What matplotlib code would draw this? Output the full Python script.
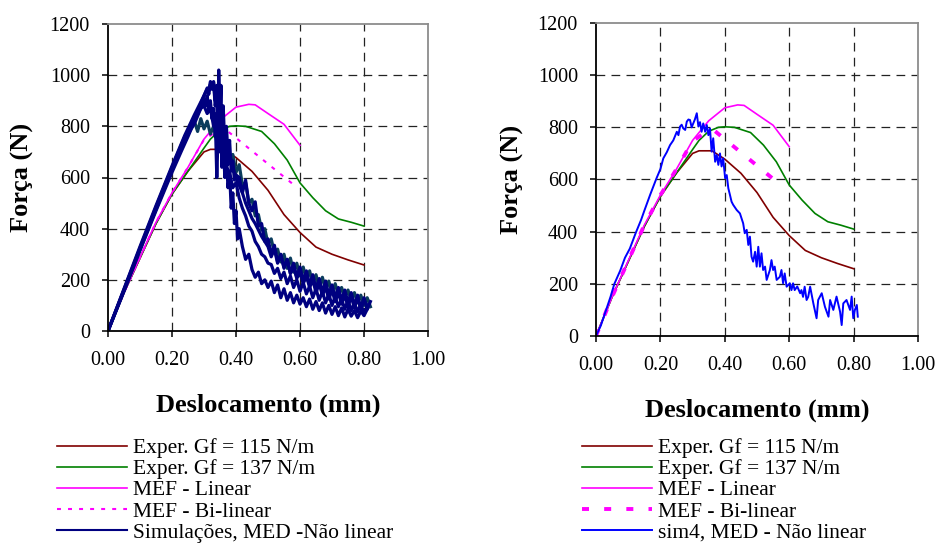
import matplotlib.pyplot as plt

plt.rcParams['font.family'] = ['Liberation Serif', 'DejaVu Serif']

# experimental curves and FEM results (same in both panels)
exp115_x = [0, .05, .10, .15, .20, .25, .28, .30, .32, .36, .40, .45, .50, .55, .60, .65, .70, .75, .80]
exp115_y = [0, 150, 285, 420, 535, 625, 670, 700, 710, 710, 678, 624, 550, 455, 385, 328, 300, 278, 258]

exp137_x = [0, .05, .10, .15, .20, .25, .30, .32, .35, .38, .40, .43, .48, .52, .56, .60, .64, .68, .72, .76, .80]
exp137_y = [0, 150, 285, 420, 535, 625, 715, 750, 785, 800, 802, 800, 780, 732, 668, 579, 521, 470, 438, 425, 410]

mef_lin_x = [0, .05, .10, .15, .20, .25, .30, .35, .40, .44, .46, .50, .55, .60]
mef_lin_y = [0, 150, 288, 425, 540, 640, 750, 825, 875, 886, 884, 850, 808, 726]

mef_bi_x = [0, .05, .10, .15, .20, .25, .30, .35, .37, .58]
mef_bi_y = [0, 150, 288, 425, 540, 640, 748, 788, 785, 572]

# DEM simulations, left panel
s1_x = [0.00, 0.05, 0.10, 0.15, 0.20, 0.24, 0.27, 0.29, 0.30, 0.31, 0.315, 0.32, 0.325, 0.33, 0.335,
        0.34, 0.343, 0.346, 0.35, 0.353, 0.356, 0.36, 0.365, 0.37, 0.375, 0.38, 0.385, 0.39, 0.395, 0.40,
        0.41, 0.42, 0.43, 0.44, 0.45, 0.46, 0.47, 0.48, 0.49, 0.50, 0.51, 0.52, 0.53, 0.54, 0.55, 0.56,
        0.57, 0.58, 0.59, 0.60, 0.61, 0.62, 0.63, 0.64, 0.65, 0.66, 0.67, 0.68, 0.69, 0.70, 0.71, 0.72,
        0.73, 0.74, 0.75, 0.76, 0.77, 0.78, 0.79, 0.80, 0.81]
s1_y = [0, 165, 330, 490, 645, 765, 845, 895, 920, 945, 925, 965, 945, 975, 900,
        960, 700, 1020, 820, 960, 640, 880, 720, 800, 690, 745, 625, 665, 590, 610,
        600, 540, 590, 500, 470, 505, 410, 420, 350, 360, 300, 335, 270, 295, 250, 280,
        225, 250, 205, 235, 185, 215, 170, 200, 150, 185, 140, 170, 125, 160, 115, 150,
        105, 140, 95, 135, 90, 130, 85, 120, 100]

s2_x = [0.00, 0.05, 0.10, 0.15, 0.20, 0.24, 0.26, 0.28, 0.29, 0.30, 0.31, 0.315, 0.32, 0.325, 0.33,
        0.335, 0.34, 0.345, 0.35, 0.355, 0.36, 0.365, 0.37, 0.375, 0.38, 0.385, 0.39, 0.395, 0.40, 0.405,
        0.41, 0.42, 0.43, 0.44, 0.45, 0.46, 0.47, 0.48, 0.49, 0.50, 0.51, 0.52, 0.53, 0.54, 0.55, 0.56,
        0.57, 0.58, 0.59, 0.60, 0.61, 0.62, 0.63, 0.64, 0.65, 0.66, 0.67, 0.68, 0.69, 0.70, 0.71, 0.72,
        0.73, 0.74, 0.75, 0.76, 0.77, 0.78, 0.79, 0.80, 0.81]
s2_y = [0, 160, 320, 475, 630, 750, 800, 860, 890, 920, 950, 940, 975, 955, 970,
        880, 920, 780, 860, 700, 760, 600, 680, 560, 620, 480, 540, 420, 470, 360,
        400, 330, 280, 300, 240, 210, 230, 185, 200, 170, 195, 150, 180, 130, 165, 120,
        150, 110, 140, 105, 130, 95, 125, 85, 115, 80, 110, 70, 100, 65, 95, 60,
        90, 55, 85, 58, 80, 52, 78, 60, 85]

s3_x = [0.00, 0.05, 0.10, 0.15, 0.20, 0.23, 0.25, 0.26, 0.27, 0.28, 0.29, 0.30, 0.305, 0.31, 0.315,
        0.32, 0.325, 0.33, 0.335, 0.34, 0.345, 0.35, 0.355, 0.36, 0.365, 0.37, 0.375, 0.38, 0.39, 0.40,
        0.41, 0.42, 0.43, 0.44, 0.45, 0.46, 0.47, 0.48, 0.49, 0.50, 0.51, 0.52, 0.53, 0.54, 0.55, 0.56,
        0.57, 0.58, 0.59, 0.60, 0.61, 0.62, 0.63, 0.64, 0.65, 0.66, 0.67, 0.68, 0.69, 0.70, 0.71, 0.72,
        0.73, 0.74, 0.75, 0.76, 0.77, 0.78, 0.79, 0.80, 0.81, 0.82]
s3_y = [0, 155, 315, 470, 620, 705, 760, 790, 810, 840, 870, 905, 880, 920, 860,
        900, 830, 870, 760, 840, 720, 800, 700, 760, 680, 720, 650, 690, 640, 600,
        570, 540, 500, 470, 440, 420, 395, 370, 350, 330, 290, 320, 265, 300, 245, 280,
        225, 265, 210, 250, 195, 235, 180, 220, 165, 205, 150, 195, 140, 180, 130, 170,
        120, 160, 110, 150, 100, 140, 90, 130, 85, 115]

s4_x = [0.00, 0.05, 0.10, 0.15, 0.20, 0.24, 0.26, 0.27, 0.28, 0.29, 0.30, 0.31, 0.32, 0.33, 0.34,
        0.35, 0.36, 0.37, 0.38, 0.39, 0.40, 0.41, 0.42, 0.43, 0.44, 0.45, 0.46, 0.47, 0.48, 0.49,
        0.50, 0.51, 0.52, 0.53, 0.54, 0.55, 0.56, 0.57, 0.58, 0.59, 0.60, 0.61, 0.62, 0.63, 0.64,
        0.65, 0.66, 0.67, 0.68, 0.69, 0.70, 0.71, 0.72, 0.73, 0.74, 0.75, 0.76, 0.77, 0.78, 0.79,
        0.80, 0.81, 0.82]
s4_y = [0, 158, 318, 478, 632, 745, 790, 820, 780, 830, 790, 820, 770, 800, 740,
        770, 700, 730, 660, 690, 620, 650, 570, 580, 500, 515, 450, 455, 395, 400,
        340, 360, 305, 320, 270, 300, 245, 285, 230, 265, 215, 250, 200, 235, 185,
        220, 170, 210, 160, 195, 150, 185, 140, 170, 130, 160, 120, 150, 110, 140,
        100, 130, 95]

s5_x = [0.00, 0.05, 0.10, 0.15, 0.20, 0.24, 0.26, 0.28, 0.29, 0.30, 0.31, 0.32, 0.33, 0.335, 0.34,
        0.345, 0.35, 0.355, 0.36, 0.365, 0.37, 0.38, 0.39, 0.40, 0.41, 0.42, 0.43, 0.44, 0.45, 0.46,
        0.47, 0.48, 0.49, 0.50, 0.51, 0.52, 0.53, 0.54, 0.55, 0.56, 0.57, 0.58, 0.59, 0.60, 0.61,
        0.62, 0.63, 0.64, 0.65, 0.66, 0.67, 0.68, 0.69, 0.70, 0.71, 0.72, 0.73, 0.74, 0.75, 0.76,
        0.77, 0.78, 0.79, 0.80, 0.81]
s5_y = [0, 162, 325, 485, 640, 760, 805, 850, 870, 880, 850, 870, 800, 850, 600,
        820, 700, 780, 650, 720, 640, 620, 560, 580, 520, 480, 450, 410, 390, 350,
        330, 300, 290, 265, 260, 225, 245, 205, 230, 185, 215, 170, 200, 155, 190,
        145, 175, 130, 165, 120, 155, 110, 145, 100, 135, 95, 125, 85, 120, 80,
        110, 75, 105, 70, 95]

# sim4, right panel
sim4_x = [0.00, 0.015, 0.03, 0.045, 0.057, 0.075, 0.09, 0.105, 0.124, 0.14, 0.15, 0.168, 0.188, 0.20,
          0.209, 0.22, 0.23, 0.24, 0.251, 0.256, 0.261, 0.266, 0.271, 0.277, 0.282, 0.287, 0.292, 0.297,
          0.302, 0.307, 0.313, 0.318, 0.323, 0.328, 0.333, 0.339, 0.344, 0.349, 0.354, 0.359, 0.364,
          0.370, 0.375, 0.380, 0.385, 0.390, 0.395, 0.401, 0.406, 0.411, 0.416, 0.421, 0.426, 0.437,
          0.447, 0.457, 0.462, 0.468, 0.473, 0.478, 0.483, 0.488, 0.494, 0.499, 0.504, 0.509, 0.514,
          0.519, 0.525, 0.530, 0.540, 0.545, 0.550, 0.555, 0.561, 0.571, 0.576, 0.581, 0.586, 0.592,
          0.602, 0.607, 0.612, 0.617, 0.625, 0.634, 0.638, 0.643, 0.648, 0.654, 0.659, 0.665, 0.675,
          0.685, 0.690, 0.701, 0.711, 0.722, 0.727, 0.737, 0.747, 0.758, 0.763, 0.768, 0.778, 0.789,
          0.794, 0.799, 0.804, 0.810, 0.813]
sim4_y = [0, 40, 95, 150, 200, 250, 300, 335, 397, 445, 480, 541, 605, 640,
          681, 705, 732, 750, 783, 770, 803, 810, 796, 790, 822, 830, 828, 800,
          815, 830, 854, 803, 820, 783, 815, 783, 809, 770, 796, 707, 758,
          668, 694, 656, 700, 650, 681, 605, 617, 566, 541, 515, 503, 483,
          470, 432, 394, 407, 349, 381, 304, 285, 323, 266, 342, 266, 317,
          253, 266, 215, 253, 291, 253, 266, 215, 227, 253, 202, 240, 189,
          202, 176, 202, 176, 190, 164, 176, 150, 189, 138, 150, 189, 125,
          68, 138, 164, 112, 74, 138, 100, 151, 93, 42, 125, 138, 100,
          151, 68, 100, 119, 74]

x_ticks = [0.0, 0.2, 0.4, 0.6, 0.8, 1.0]
y_ticks = [0, 200, 400, 600, 800, 1000, 1200]
grid_x = [0.2, 0.4, 0.6, 0.8]
grid_y = [200, 400, 600, 800, 1000]


def setup(ax, xlab_y, ylab_x):
    ax.set_xlim(0, 1)
    ax.set_ylim(0, 1200)
    ax.set_xticks(x_ticks)
    ax.set_xticklabels(['%.2f' % v for v in x_ticks])
    ax.set_yticks(y_ticks)
    for g in grid_x:
        ax.axvline(g, color='#222222', lw=0.9, ls=(0, (7, 5)), zorder=1)
    for g in grid_y:
        ax.axhline(g, color='#222222', lw=0.9, ls=(0, (7, 5)), zorder=1)
    for s in ['left', 'bottom']:
        ax.spines[s].set_color('black')
        ax.spines[s].set_linewidth(1.3)
    for s in ['top', 'right']:
        ax.spines[s].set_color('#8c8c8c')
        ax.spines[s].set_linewidth(1.3)
    ax.tick_params(direction='out', length=4.5, width=1.1, labelsize=14.5)
    ax.tick_params(axis='x', pad=10)
    ax.tick_params(axis='y', pad=8.5)
    ax.set_xlabel('Deslocamento (mm)', fontsize=19, fontweight='bold')
    ax.set_ylabel('Força (N)', fontsize=19, fontweight='bold')
    ax.xaxis.set_label_coords(0.5, xlab_y)
    ax.xaxis.label.set_va('center')
    ax.yaxis.set_label_coords(ylab_x, 0.5)
    ax.yaxis.label.set_va('center')


fig = plt.figure(figsize=(9.39, 5.44), dpi=100)
ax1 = fig.add_axes([108 / 939, 1 - 331 / 544, 320 / 939, 307 / 544])
ax2 = fig.add_axes([596 / 939, 1 - 336 / 544, 322 / 939, 313 / 544])

# left panel
h1 = []
h1 += ax1.plot(exp115_x, exp115_y, color='#800000', lw=1.2)
h1 += ax1.plot(exp137_x, exp137_y, color='#008000', lw=1.2)
h1 += ax1.plot(mef_lin_x, mef_lin_y, color='#ff00ff', lw=1.2)
h1 += ax1.plot(mef_bi_x, mef_bi_y, color='#ff00ff', lw=1.5, ls=(0, (1.9, 3.4)))
ax1.plot(s4_x, s4_y, color='#0b3c5d', lw=2.3)
ax1.plot(s3_x, s3_y, color='#000080', lw=2.3)
ax1.plot(s5_x, s5_y, color='#000080', lw=2.3)
ax1.plot(s1_x, s1_y, color='#000080', lw=2.3)
ax1.plot(s2_x, s2_y, color='#000080', lw=2.3)
h1 += ax1.plot([], [], color='#000080', lw=1.5)
setup(ax1, -0.241, -0.266)

# right panel
h2 = []
h2 += ax2.plot(exp115_x, exp115_y, color='#800000', lw=1.2)
h2 += ax2.plot(exp137_x, exp137_y, color='#008000', lw=1.2)
h2 += ax2.plot(mef_lin_x, mef_lin_y, color='#ff00ff', lw=1.2)
h2 += ax2.plot(mef_bi_x, mef_bi_y, color='#ff00ff', lw=2.8, ls=(0, (1.8, 3.9)))
h2 += ax2.plot(sim4_x, sim4_y, color='#0000ff', lw=1.4)
setup(ax2, -0.236, -0.261)

lab1 = ['Exper. Gf = 115 N/m', 'Exper. Gf = 137 N/m', 'MEF - Linear', 'MEF - Bi-linear',
        'Simulações, MED -Não linear']
lab2 = ['Exper. Gf = 115 N/m', 'Exper. Gf = 137 N/m', 'MEF - Linear', 'MEF - Bi-linear',
        'sim4, MED - Não linear']

for h, lab, x0 in [(h1, lab1, 57), (h2, lab2, 582)]:
    fig.legend(h, lab, loc='upper left', bbox_to_anchor=(x0 / 939, 1 - 438 / 544),
               bbox_transform=fig.transFigure, frameon=False, borderpad=0,
               borderaxespad=0, fontsize=15.5, handlelength=3.25, handletextpad=0.28,
               labelspacing=0.05)

fig.savefig('out.png', dpi=100)
